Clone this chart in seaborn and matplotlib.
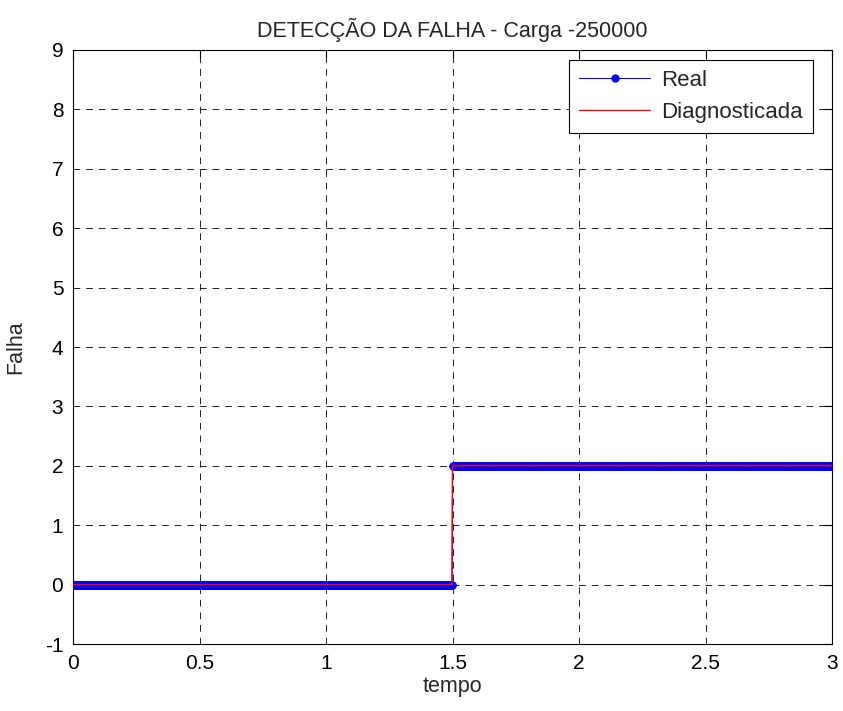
import numpy as np
import pandas as pd
import matplotlib
matplotlib.use("Agg")
import matplotlib.pyplot as plt
import seaborn as sns

sns.set_style("white")
plt.rcParams['font.family'] = ['Liberation Sans', 'DejaVu Sans']
plt.rcParams['axes.unicode_minus'] = False

# Data: sampled time axis and fault class (real vs diagnosed)
tempo = np.round(np.arange(0, 3.0001, 0.002), 3)
fault_time = 1.5
level_before = 0
level_after = 2
real = np.where(tempo < fault_time, level_before, level_after)
diagnosticada = np.where(tempo < fault_time, level_before, level_after)

df = pd.DataFrame({'tempo': tempo, 'Real': real, 'Diagnosticada': diagnosticada})

fig = plt.figure(figsize=(8.43, 7.11), dpi=100)
ax = fig.add_axes([0.0866, 0.0942, 0.9004, 0.8355])

sns.lineplot(data=df, x='tempo', y='Real', ax=ax, color='#0000ff', linewidth=0.8,
             marker='o', markersize=6, markeredgewidth=0, markerfacecolor='#0000ff',
             label='Real', zorder=3)
sns.lineplot(data=df, x='tempo', y='Diagnosticada', ax=ax, color='#ff0000', linewidth=1.0,
             label='Diagnosticada', zorder=4)

ax.set_xlim(0, 3)
ax.set_ylim(-1, 9)
ax.set_xticks(np.arange(0, 3.01, 0.5))
ax.set_xticklabels(['0', '0.5', '1', '1.5', '2', '2.5', '3'])
ax.set_yticks(np.arange(-1, 10, 1))
ax.tick_params(direction='in', top=True, right=True, labelsize=15, length=6, width=0.8,
               colors='black', pad=7)
ax.grid(True, color='#222222', linestyle=(0, (7, 6)), linewidth=0.7)
for s in ax.spines.values():
    s.set_color('black')
    s.set_linewidth(0.8)

ax.set_title('DETECÇÃO DA FALHA - Carga -250000', fontsize=15.5, pad=9)
ax.set_xlabel('tempo', fontsize=15.5, labelpad=2)
ax.set_ylabel('Falha', fontsize=15.5, labelpad=13)

leg = ax.legend(loc='upper right', bbox_to_anchor=(0.975, 0.983), fontsize=16, frameon=True,
                fancybox=False, framealpha=1, edgecolor='black', borderaxespad=0,
                handlelength=3.2, borderpad=0.45, labelspacing=0.5, handletextpad=0.5)
leg.get_frame().set_linewidth(0.8)
leg.get_lines()[0].set_markersize(6)

fig.savefig('out.png', dpi=100)
